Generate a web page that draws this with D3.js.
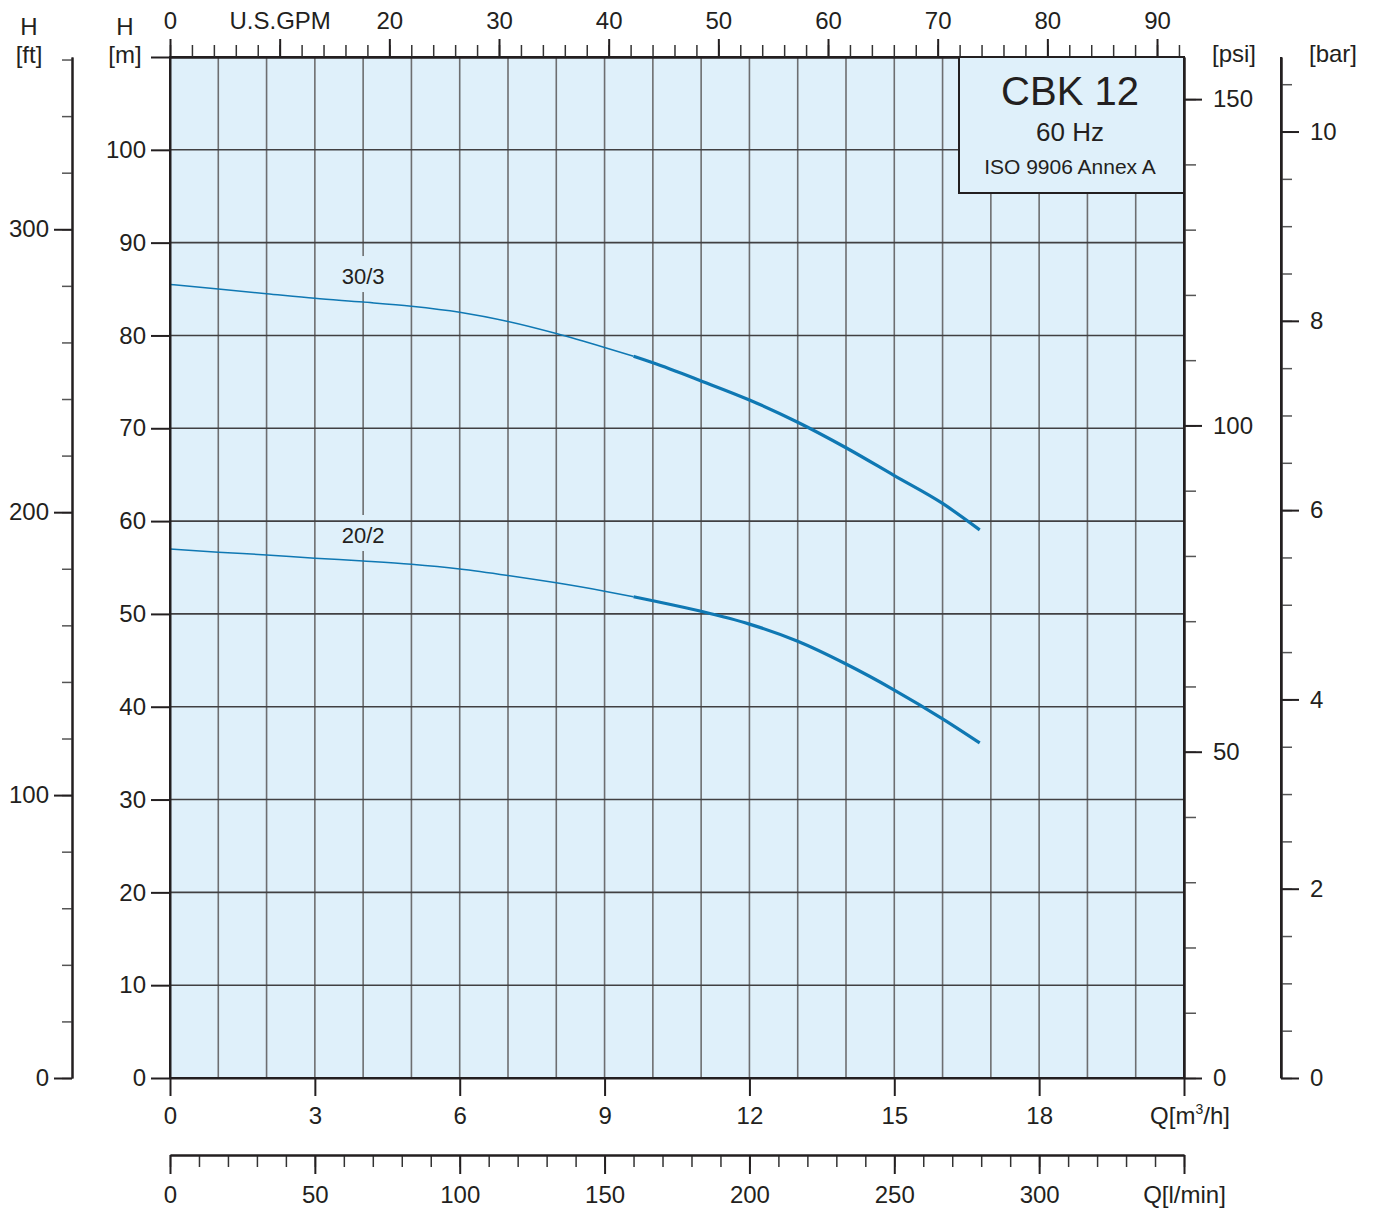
<!DOCTYPE html>
<html>
<head>
<meta charset="utf-8">
<script src="https://cdn.jsdelivr.net/npm/d3@7"></script>
<style>
  html, body { margin: 0; padding: 0; background: #ffffff; }
  svg { display: block; font-family: "Liberation Sans", Arial, sans-serif; }
</style>
</head>
<body>
<svg id="chart" width="1378" height="1210"></svg>
<script>
// ---------------- data ----------------
const title = "CBK 12";
const subtitle = "60 Hz";
const standard = "ISO 9906 Annex A";

const curveNames = ["30/3", "20/2"];
// thin (outside recommended range) parts, [Q m3/h, H m]
const curve30_3_thin = [[0,85.5],[1,85.0],[2,84.5],[3,84.0],[4,83.6],[5,83.15],[6,82.5],[7,81.5],[8,80.2],[9,78.7],[9.6,77.75]];
const curve30_3_thick = [[9.6,77.75],[10,77.05],[11,75.1],[12,73.05],[13,70.65],[14,67.9],[15,64.9],[16,61.9],[16.77,59.05]];
const curve20_2_thin = [[0,57.0],[1,56.65],[2,56.35],[3,56.0],[4,55.7],[5,55.35],[6,54.85],[7,54.15],[8,53.35],[9,52.45],[9.6,51.85]];
const curve20_2_thick = [[9.6,51.85],[10,51.42],[11,50.28],[12,48.9],[13,47.05],[14,44.6],[15,41.8],[16,38.7],[16.77,36.1]];
const labelQ = [4, 4];

const qTicks = [0,3,6,9,12,15,18,21];
const qGrid = d3.range(0, 22, 1);
const hTicks = d3.range(0, 111, 10);
const ftMajor = [0,100,200,300];
const ftMinor = d3.range(0, 361, 20);
const psiMajor = [0,50,100,150];
const psiMinor = d3.range(0, 151, 10);
const barMajor = [0,2,4,6,8,10];
const barMinor = d3.range(0, 10.6, 0.5);
const gpmMajor = d3.range(0, 91, 10);
const gpmMinor = d3.range(0, 93, 2);
const lminMajor = d3.range(0, 351, 50);
const lminMinor = d3.range(0, 351, 10);

// unit conversions
const M_PER_FT = 0.3048, M_PER_PSI = 0.70307, M_PER_BAR = 10.197;
const M3H_PER_GPM = 0.227125, M3H_PER_LMIN = 0.06;
const Q_MAX = 21, H_MAX = 110;

// ---------------- layout ----------------
const L = 170, R = 1184, T = 57, B = 1078;
const INK = "#231f20", BG = "#dff0fa", BLUE = "#0f78b3";

const svg = d3.select("#chart");
const x = d3.scaleLinear().domain([0, Q_MAX]).range([L, R]);
const y = d3.scaleLinear().domain([0, H_MAX]).range([B, T]);
const xg = d3.scaleLinear().domain([0, Q_MAX / M3H_PER_GPM]).range([L, R]);
const xl = d3.scaleLinear().domain([0, Q_MAX / M3H_PER_LMIN]).range([L, R]);
const yft = d3.scaleLinear().domain([0, H_MAX / M_PER_FT]).range([B, T]);
const ypsi = d3.scaleLinear().domain([0, H_MAX / M_PER_PSI]).range([B, T]);
const ybar = d3.scaleLinear().domain([0, H_MAX / M_PER_BAR]).range([B, T]);

// background
svg.append("rect").attr("x", L).attr("y", T).attr("width", R - L).attr("height", B - T).attr("fill", BG);

// vertical grid
svg.append("g").selectAll("line").data(qGrid).join("line")
  .attr("x1", d => x(d)).attr("x2", d => x(d)).attr("y1", T).attr("y2", B)
  .attr("stroke", "#6d6e70").attr("stroke-width", 1.6);

const curveSets = [
  {name: curveNames[0], thin: curve30_3_thin, thick: curve30_3_thick, lq: labelQ[0]},
  {name: curveNames[1], thin: curve20_2_thin, thick: curve20_2_thick, lq: labelQ[1]}
];
function interpH(pts, q) {
  for (let i = 0; i < pts.length - 1; i++) {
    if (q >= pts[i][0] && q <= pts[i+1][0]) {
      const t = (q - pts[i][0]) / (pts[i+1][0] - pts[i][0]);
      return pts[i][1] + t * (pts[i+1][1] - pts[i][1]);
    }
  }
  return pts[pts.length - 1][1];
}
// curve label masks (hide vertical grid behind labels)
curveSets.forEach(c => {
  const by = y(interpH(c.thin, c.lq)) - 18;
  svg.append("rect").attr("x", x(c.lq) - 26).attr("y", by - 28).attr("width", 52).attr("height", 36).attr("fill", BG);
});

// horizontal grid
svg.append("g").selectAll("line").data(hTicks.filter(d => d > 0 && d < H_MAX)).join("line")
  .attr("x1", L).attr("x2", R).attr("y1", d => y(d)).attr("y2", d => y(d))
  .attr("stroke", "#414042").attr("stroke-width", 1.6);

// plot frame
svg.append("rect").attr("x", L).attr("y", T).attr("width", R - L).attr("height", B - T)
  .attr("fill", "none").attr("stroke", INK).attr("stroke-width", 2);

// curves
const line = d3.line().x(d => x(d[0])).y(d => y(d[1])).curve(d3.curveMonotoneX);
curveSets.forEach(c => {
  svg.append("path").datum(c.thin).attr("d", line).attr("fill", "none").attr("stroke", BLUE).attr("stroke-width", 1.5);
  svg.append("path").datum(c.thick).attr("d", line).attr("fill", "none").attr("stroke", BLUE).attr("stroke-width", 3.2);
  svg.append("text").attr("x", x(c.lq)).attr("y", y(interpH(c.thin, c.lq)) - 18)
    .attr("text-anchor", "middle").attr("font-size", 22).attr("fill", INK).text(c.name);
});

// ---------------- axes ----------------
function styleAxis(g, width, color) {
  g.select(".domain").attr("stroke", INK).attr("stroke-width", 2);
  g.selectAll(".tick line").attr("stroke", color || INK).attr("stroke-width", width || 2);
  g.selectAll(".tick text").attr("fill", INK).attr("font-size", 24)
    .attr("font-family", "'Liberation Sans', Arial, sans-serif");
}

// top GPM axis
svg.append("g").attr("transform", `translate(0,${T})`)
  .call(d3.axisTop(xg).tickValues(gpmMinor).tickSize(12).tickSizeOuter(0).tickFormat(""))
  .call(g => styleAxis(g, 1.5, "#333"));
svg.append("g").attr("transform", `translate(0,${T})`)
  .call(d3.axisTop(xg).tickValues(gpmMajor).tickSize(18).tickSizeOuter(0).tickPadding(10)
    .tickFormat(d => d === 10 ? "U.S.GPM" : d))
  .call(g => styleAxis(g, 2));

// left H[m] axis
svg.append("g").attr("transform", `translate(${L},0)`)
  .call(d3.axisLeft(y).tickValues(hTicks).tickSize(19).tickSizeOuter(0).tickPadding(5)
    .tickFormat(d => d === 110 ? "" : d))
  .call(g => styleAxis(g, 2));

// left H[ft] axis
const FTX = 72;
svg.append("g").attr("transform", `translate(${FTX},0)`)
  .call(d3.axisLeft(yft).tickValues(ftMinor).tickSize(10).tickSizeOuter(0).tickFormat(""))
  .call(g => styleAxis(g, 1.5, "#555"));
svg.append("g").attr("transform", `translate(${FTX},0)`)
  .call(d3.axisLeft(yft).tickValues(ftMajor).tickSize(18).tickSizeOuter(0).tickPadding(5))
  .call(g => styleAxis(g, 2));

// right psi axis
svg.append("g").attr("transform", `translate(${R},0)`)
  .call(d3.axisRight(ypsi).tickValues(psiMinor).tickSize(12).tickSizeOuter(0).tickFormat(""))
  .call(g => styleAxis(g, 1.5, "#555"));
svg.append("g").attr("transform", `translate(${R},0)`)
  .call(d3.axisRight(ypsi).tickValues(psiMajor).tickSize(18).tickSizeOuter(0).tickPadding(11))
  .call(g => styleAxis(g, 2));

// right bar axis
const BARX = 1281;
svg.append("g").attr("transform", `translate(${BARX},0)`)
  .call(d3.axisRight(ybar).tickValues(barMinor).tickSize(11).tickSizeOuter(0).tickFormat(""))
  .call(g => styleAxis(g, 1.5, "#555"));
svg.append("g").attr("transform", `translate(${BARX},0)`)
  .call(d3.axisRight(ybar).tickValues(barMajor).tickSize(18).tickSizeOuter(0).tickPadding(11))
  .call(g => styleAxis(g, 2));
svg.append("line").attr("x1", BARX).attr("x2", BARX).attr("y1", T).attr("y2", B).attr("stroke", INK).attr("stroke-width", 2);

// bottom Q[m3/h] axis
svg.append("g").attr("transform", `translate(0,${B})`)
  .call(d3.axisBottom(x).tickValues(qTicks).tickSize(18).tickSizeOuter(0).tickPadding(11)
    .tickFormat(d => d === Q_MAX ? "" : d))
  .call(g => styleAxis(g, 2));

// bottom Q[l/min] axis
const LMY = 1155;
svg.append("g").attr("transform", `translate(0,${LMY})`)
  .call(d3.axisBottom(xl).tickValues(lminMinor).tickSize(12).tickSizeOuter(0).tickFormat(""))
  .call(g => styleAxis(g, 1.5, "#333"));
svg.append("g").attr("transform", `translate(0,${LMY})`)
  .call(d3.axisBottom(xl).tickValues(lminMajor).tickSize(19).tickSizeOuter(0).tickPadding(12)
    .tickFormat(d => d === 350 ? "Q[l/min]" : d))
  .call(g => styleAxis(g, 2));

// unit labels
const lab = (tx, ty, s, anchor) => svg.append("text").attr("x", tx).attr("y", ty)
  .attr("text-anchor", anchor || "middle").attr("font-size", 24).attr("fill", INK).text(s);
lab(29, 35, "H"); lab(29, 63, "[ft]");
lab(125, 35, "H"); lab(125, 63, "[m]");
lab(1234, 62, "[psi]");
lab(1333, 62, "[bar]");
const qm = svg.append("text").attr("x", 1190).attr("y", 1124).attr("text-anchor", "middle")
  .attr("font-size", 24).attr("fill", INK);
qm.append("tspan").text("Q[m");
qm.append("tspan").attr("font-size", 14).attr("dy", -10).text("3");
qm.append("tspan").attr("dy", 10).text("/h]");

// title box
svg.append("rect").attr("x", 959).attr("y", T).attr("width", R - 959).attr("height", 136)
  .attr("fill", BG).attr("stroke", INK).attr("stroke-width", 2);
svg.append("text").attr("x", 1070).attr("y", 105).attr("text-anchor", "middle").attr("font-size", 40).attr("fill", INK).text(title);
svg.append("text").attr("x", 1070).attr("y", 141).attr("text-anchor", "middle").attr("font-size", 26).attr("fill", INK).text(subtitle);
svg.append("text").attr("x", 1070).attr("y", 174).attr("text-anchor", "middle").attr("font-size", 21).attr("fill", INK).text(standard);
</script>
</body>
</html>
